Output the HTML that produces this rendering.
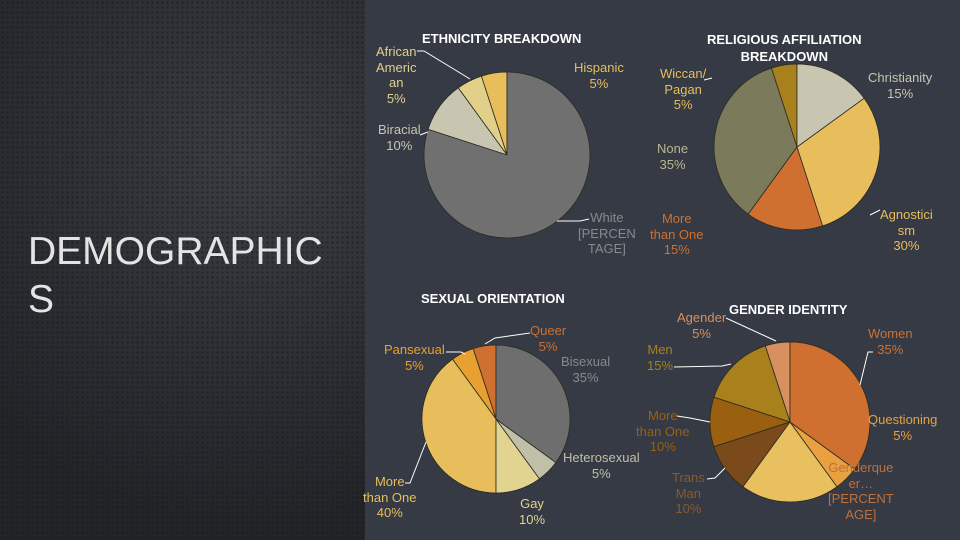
<!DOCTYPE html>
<html><head><meta charset="utf-8">
<style>
body{margin:0;width:960px;height:540px;overflow:hidden;font-family:"Liberation Sans",sans-serif;}
#root{position:relative;width:960px;height:540px;background:#353a44;}
#left{position:absolute;left:0;top:0;width:365px;height:540px;background:radial-gradient(circle at 70% 30%,#3a3d43,#222428 80%);}
#left:after{content:"";position:absolute;inset:0;background-image:radial-gradient(#18191c 1px,transparent 1.3px);background-size:5px 5px;opacity:.6;}
.big{position:absolute;left:28px;top:228px;color:#e4e4e4;font-size:39px;line-height:48px;z-index:2;}
.t{position:absolute;color:#fff;font-weight:bold;font-size:13px;white-space:nowrap;}
.l{position:absolute;font-size:13px;line-height:15.5px;text-align:center;white-space:nowrap;}
svg{position:absolute;left:0;top:0;}
</style></head><body>
<div id="root">
<div id="left"></div>
<div class="big">DEMOGRAPHIC<br>S</div>
<svg width="960" height="540" id="svg">
<g stroke="#fff" stroke-width="1" fill="none">
<polyline points="417,51 424,51 470,79"/>
<polyline points="557,221 580,221 589,219"/>
<polyline points="420,135 428,132"/>
<polyline points="880,210 870,215"/>
<polyline points="704,80 712,78"/>
<polyline points="446,352 461,352 465,354"/>
<polyline points="530,333 495,338 485,344"/>
<polyline points="405,483 410,483 426,442"/>
<polyline points="726,318 776,341"/>
<polyline points="674,367 722,366 731,364"/>
<polyline points="677,416 690,418 710,422"/>
<polyline points="707,479 715,478 725,468"/>
<polyline points="873,352 868,352 860,385"/>
</g>
</svg>

<div class="t" style="left:422px;top:31px">ETHNICITY BREAKDOWN</div>
<div class="l" style="left:376px;top:44px;color:#e2d08a">African<br>Americ<br>an<br>5%</div>
<div class="l" style="left:574px;top:60px;color:#e8bd5c">Hispanic<br>5%</div>
<div class="l" style="left:378px;top:122px;color:#c8c6b0">Biracial<br>10%</div>
<div class="l" style="left:578px;top:210px;color:#8a8a8a">White<br>[PERCEN<br>TAGE]</div>

<div class="t" style="left:707px;top:31px;text-align:center;line-height:17px">RELIGIOUS AFFILIATION<br>BREAKDOWN</div>
<div class="l" style="left:660px;top:66px;color:#e8bd5c">Wiccan/<br>Pagan<br>5%</div>
<div class="l" style="left:868px;top:70px;color:#c8c6b0">Christianity<br>15%</div>
<div class="l" style="left:657px;top:141px;color:#b8b890">None<br>35%</div>
<div class="l" style="left:650px;top:211px;color:#d07030">More<br>than One<br>15%</div>
<div class="l" style="left:880px;top:207px;color:#e8bd5c">Agnostici<br>sm<br>30%</div>

<div class="t" style="left:421px;top:291px">SEXUAL ORIENTATION</div>
<div class="l" style="left:530px;top:323px;color:#d07030">Queer<br>5%</div>
<div class="l" style="left:384px;top:342px;color:#e8a030">Pansexual<br>5%</div>
<div class="l" style="left:561px;top:354px;color:#8a8a8a">Bisexual<br>35%</div>
<div class="l" style="left:563px;top:450px;color:#c0c0a8">Heterosexual<br>5%</div>
<div class="l" style="left:363px;top:474px;color:#e8bd5c">More<br>than One<br>40%</div>
<div class="l" style="left:519px;top:496px;color:#e0d490">Gay<br>10%</div>

<div class="t" style="left:729px;top:302px">GENDER IDENTITY</div>
<div class="l" style="left:677px;top:310px;color:#d89060">Agender<br>5%</div>
<div class="l" style="left:868px;top:326px;color:#d07030">Women<br>35%</div>
<div class="l" style="left:647px;top:342px;color:#a8801c">Men<br>15%</div>
<div class="l" style="left:636px;top:408px;color:#9a6010">More<br>than One<br>10%</div>
<div class="l" style="left:868px;top:412px;color:#e8a040">Questioning<br>5%</div>
<div class="l" style="left:828px;top:460px;color:#c0703a">Genderque<br>er…<br>[PERCENT<br>AGE]</div>
<div class="l" style="left:672px;top:470px;color:#8a5a2a">Trans<br>Man<br>10%</div>
</div>
<script>
const ethValues=[80,10,5,5];
const ethColors=["#707070","#c8c6b0","#e2d08a","#e8bd5c"];
const relValues=[15,30,15,35,5];
const relColors=["#c8c6b0","#e8bd5c","#d07030","#7b7b5c","#a8801c"];
const sexValues=[35,5,10,40,5,5];
const sexColors=["#6e6e6e","#c0c0a8","#e0d490","#e8bd5c","#e8a030","#d07030"];
const genValues=[35,5,20,10,10,15,5];
const genColors=["#d07030","#e8a040","#e8c060","#7a4a1a","#9a6010","#a8801c","#d89060"];
const svg=document.getElementById('svg');
const NS="http://www.w3.org/2000/svg";
function pie(vals,cols,cx,cy,r,name){
  const tot=vals.reduce((a,b)=>a+b,0);let a=0;
  vals.forEach((v,i)=>{
    const a0=a/tot*2*Math.PI;a+=v;const a1=a/tot*2*Math.PI;
    const x0=cx+r*Math.sin(a0),y0=cy-r*Math.cos(a0),x1=cx+r*Math.sin(a1),y1=cy-r*Math.cos(a1);
    const p=document.createElementNS(NS,'path');
    p.setAttribute('d',`M${cx},${cy}L${x0},${y0}A${r},${r} 0 ${(a1-a0)>Math.PI?1:0} 1 ${x1},${y1}Z`);
    p.setAttribute('fill',cols[i]);p.setAttribute('stroke','#2a2a20');p.setAttribute('stroke-width','0.8');
    
    
    svg.insertBefore(p,svg.firstChild);
  });
}
pie(ethValues,ethColors,507,155,83,'ethnicity');
pie(relValues,relColors,797,147,83,'religion');
pie(sexValues,sexColors,496,419,74,'sexual');
pie(genValues,genColors,790,422,80,'gender');
</script>
</body></html>
